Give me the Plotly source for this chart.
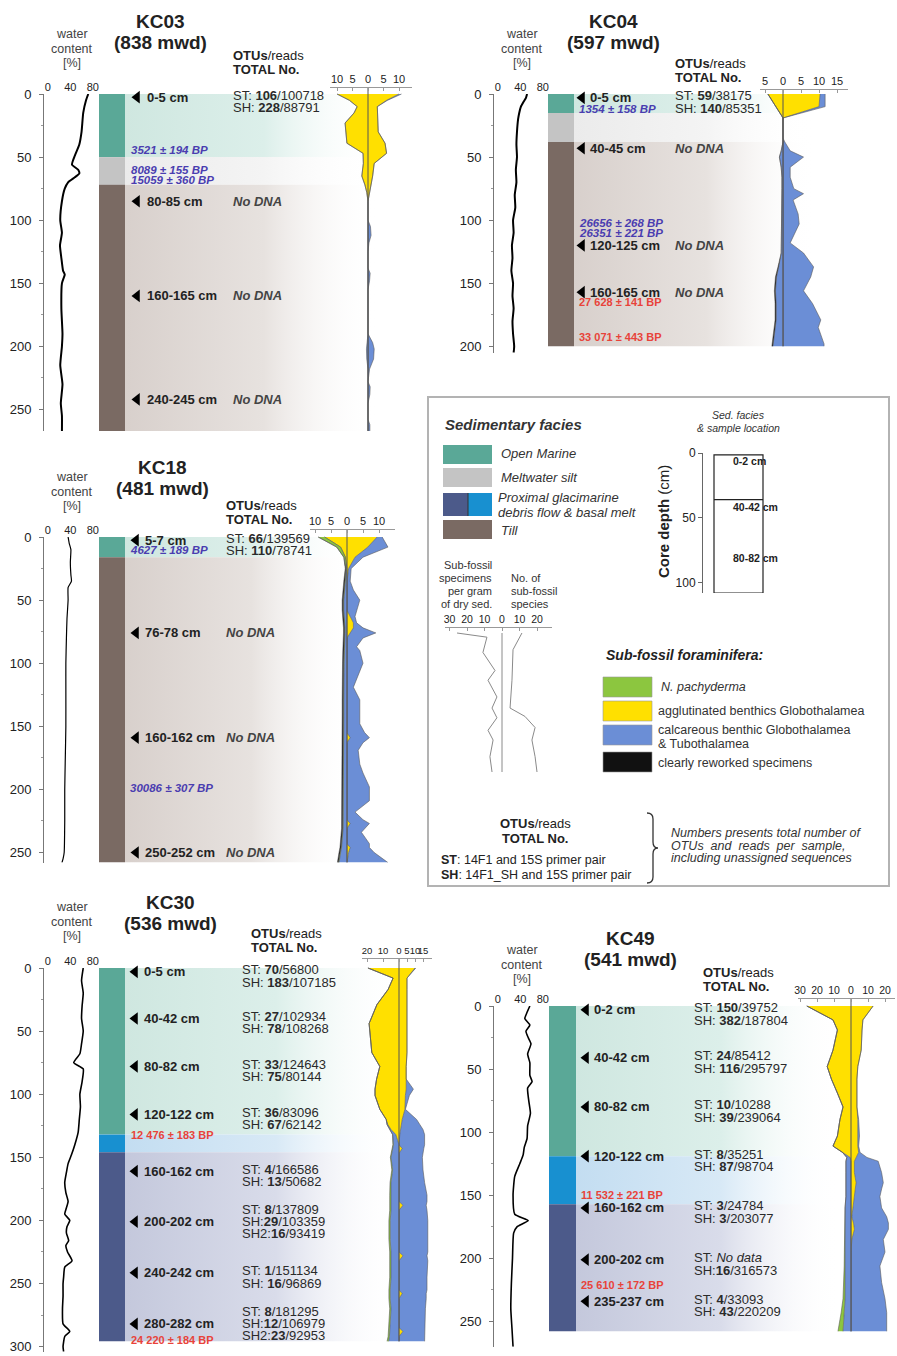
import plotly.graph_objects as go

W, H = 897, 1356
SCALE = 1.262  # px per cm of core depth
FONT = "Liberation Sans, Arial, Helvetica, sans-serif"
INK = "#222222"

# ===================== DATA =====================
# ---------- KC03 ----------
kc03_fac_top = [0, 50, 72]
kc03_fac_bot = [50, 72, 267]
kc03_fac = ["om", "mw", "till"]
kc03_wc_depth = [0, 5, 15, 30, 40, 50, 56, 60, 63, 66, 70, 75, 85, 100, 110, 120, 130, 140, 143, 150, 170, 190, 200, 215, 230, 245, 255, 267]
kc03_wc = [72, 68, 63, 60, 56, 47, 43, 54, 56, 48, 36, 30, 25, 22, 25, 21.5, 24, 27, 30, 25, 24, 26, 25, 22, 26, 23, 25, 25]
kc03_samples = ["0-5 cm", "80-85 cm", "160-165 cm", "240-245 cm"]
kc03_sample_depth = [2.5, 85, 160, 242]
kc03_otu = [["ST: <b>106</b>/100718", "SH: <b>228</b>/88791"], [], [], []]
kc03_dates = ["3521 ± 194 BP", "8089 ± 155 BP", "15059 ± 360 BP"]
kc03_date_depth = [44.4, 60.2, 68]
kc03_date_kind = ["b", "b", "b"]
kc03_f_depth = [0, 5, 10, 15, 23, 30, 39, 47, 55, 65, 72, 78, 85, 100, 105, 112, 118, 125, 138, 142, 148, 155, 190, 197, 202, 210, 218, 228, 232, 238, 245, 258, 262, 267]
kc03_yel_L = [10, 6, 3.5, 4.5, 7.4, 7.2, 6.8, 1.6, 1.5, 2, 1, 0.4, 0, 0, 0, 0, 0, 0, 0, 0, 0, 0, 0, 0, 0, 0, 0, 0, 0, 0, 0, 0, 0, 0]
kc03_blu_L = [0, 0, 0, 0, 0, 0, 0, 0, 0, 0, 0, 0, 0, 0, 0, 0, 0, 0, 0, 0, 0, 0, 0, 0.3, 0.5, 0.4, 0, 0, 0, 0, 0, 0, 0, 0]
kc03_yel_R = [10, 6, 3, 3, 3.2, 3.3, 5.5, 6, 2, 1.5, 1, 0.4, 0, 0, 0, 0, 0, 0, 0, 0, 0, 0, 0, 0, 0, 0, 0, 0, 0, 0, 0, 0, 0, 0]
kc03_blu_R = [0.8, 0.3, 0, 0, 0, 0, 0, 0, 0, 0, 0, 0, 0, 0, 0.8, 1, 0.3, 0, 0, 0.7, 0.5, 0, 0, 1.5, 2, 1.8, 0.5, 0, 0.7, 0.6, 0, 0, 0.6, 0.6]
kc03_f_ticks = [-10, -5, 0, 5, 10]

# ---------- KC04 ----------
kc04_fac_top = [0, 15, 38]
kc04_fac_bot = [15, 38, 200]
kc04_fac = ["om", "mw", "till"]
kc04_wc_depth = [0, 3, 6, 10, 15, 20, 30, 40, 50, 60, 70, 80, 90, 100, 110, 120, 130, 140, 150, 160, 170, 180, 190, 200, 205]
kc04_wc = [52, 50, 46, 41, 38, 36, 34, 33, 34, 32, 33, 30, 31, 27, 28, 25, 26, 24, 27, 26, 28, 26, 27, 29, 28]
kc04_samples = ["0-5 cm", "40-45 cm", "120-125 cm", "160-165 cm"]
kc04_sample_depth = [3, 43, 120, 157]
kc04_otu = [["ST: <b>59</b>/38175", "SH: <b>140</b>/85351"], [], [], []]
kc04_dates = ["1354 ± 158 BP", "26656 ± 268 BP", "26351 ± 221 BP", "27 628 ± 141 BP", "33 071 ± 443 BP"]
kc04_date_depth = [11.9, 102, 110, 165, 192.5]
kc04_date_kind = ["b", "b", "b", "r", "r"]
kc04_f_depth = [0, 10, 19, 35, 38, 45, 50, 58, 66, 75, 79, 84, 95, 103, 118, 126, 137, 145, 156, 166, 179, 185, 198, 200]
kc04_yel_L = [4.2, 2, 0, 0, 0, 0, 0, 0, 0, 0, 0, 0, 0, 0, 0, 0, 0, 0, 0, 0, 0, 0, 0, 0]
kc04_blu_L = [0, 0, 0, 0, 0, 0.5, 1, 0.5, 0.3, 0.3, 0.3, 0.3, 0.3, 0.3, 0.5, 0.5, 1.2, 1.8, 2.1, 1.9, 1.9, 2.1, 2.6, 2.8]
kc04_blk_L = [0, 0, 0, 0, 0, 0, 0, 0, 0, 0, 0, 0, 0, 0, 0, 0, 0.2, 0.3, 0.3, 0.3, 0.3, 0.3, 0.3, 0.3]
kc04_yel_R = [10.3, 10, 0, 0, 0, 0, 0, 0, 0, 0, 0, 0, 0, 0, 0, 0, 0, 0, 0, 0, 0, 0, 0, 0]
kc04_blu_R = [1.4, 1.7, 0, 0, 0.5, 2, 5.7, 2, 2, 3, 5.7, 2.8, 4.2, 4.5, 2, 5.7, 8.5, 7.7, 5.7, 8.2, 10.5, 9.8, 11.4, 11.4]
kc04_f_ticks = [-5, 0, 5, 10, 15]

# ---------- KC18 ----------
kc18_fac_top = [0, 16]
kc18_fac_bot = [16, 258]
kc18_fac = ["om", "till"]
kc18_wc_depth = [0, 5, 10, 20, 30, 35, 40, 50, 65, 80, 100, 120, 150, 175, 200, 225, 250, 255, 258]
kc18_wc = [36, 38, 41, 40, 41, 42, 36, 36, 34, 33, 32, 32, 32, 31, 30, 30, 29, 27, 25]
kc18_samples = ["5-7 cm", "76-78 cm", "160-162 cm", "250-252 cm"]
kc18_sample_depth = [2.5, 76, 159, 250]
kc18_otu = [["ST: <b>66</b>/139569", "SH: <b>110</b>/78741"], [], [], []]
kc18_dates = ["4627 ± 189 BP", "30086 ± 307 BP"]
kc18_date_depth = [10.3, 199]
kc18_date_kind = ["b", "b"]
kc18_f_depth = [0, 8, 16, 25, 35, 42, 50, 58, 63, 68, 72, 76, 80, 87, 90, 100, 110, 119, 129, 140, 148, 155, 159, 163, 169, 180, 187, 198, 209, 218, 224, 227, 231, 234, 243, 246, 250, 258]
kc18_yel_L = [7, 2, 0.5] + [0] * 35
kc18_blu_L = [0, 0, 0, 0.2, 0.5, 0.8, 1, 1, 0.8, 0.7, 0.6, 0.6, 0.6, 0.8, 0.8, 0.9, 1, 0.9, 1, 1, 1, 1.1, 1, 1, 1, 1, 1.1, 1, 1, 1.1, 1, 1.1, 1.2, 1.3, 1.5, 1.7, 2, 2.5]
kc18_grn_L = [2, 1.2, 0.5] + [0.15] * 35
kc18_blk_L = [0, 0, 0, 0.2] + [0.35] * 34
kc18_yel_R = [9.4, 6.5, 2.5, 0.5, 0, 0, 0, 0, 1, 2, 2, 1, 0, 0, 0, 0, 0, 0, 0, 0, 0, 0, 1, 0, 0, 0, 0, 0, 0, 0, 0, 1, 0, 0, 0, 1, 0.5, 0]
kc18_blu_R = [1.6, 6.3, 2.5, 0.8, 1, 2, 4, 3, 1.5, 1, 3, 8, 5, 3, 4, 5, 3.5, 2, 4, 4, 4, 5.5, 6, 5, 3.5, 4, 5, 7, 7, 2.5, 5, 6, 5.5, 4.5, 7, 6, 8, 12.8]
kc18_f_ticks = [-10, -5, 0, 5, 10]

# ---------- KC30 ----------
kc30_fac_top = [0, 132, 146]
kc30_fac_bot = [132, 146, 296]
kc30_fac = ["om", "bm", "df"]
kc30_wc_depth = [0, 10, 20, 30, 40, 50, 60, 68, 75, 80, 90, 100, 110, 120, 130, 140, 148, 155, 162, 170, 178, 185, 190, 195, 200, 205, 210, 216, 220, 225, 232, 237, 245, 250, 260, 270, 282, 288, 292, 300, 304]
kc30_wc = [63, 60, 63, 61, 60, 63, 60, 57, 46, 63, 61, 57, 58, 56, 54, 48, 42, 36, 33, 30, 32, 36, 33, 30, 39, 34, 33, 37, 32, 35, 43, 30, 28, 27, 27, 26, 27, 39, 30, 27, 28]
kc30_samples = ["0-5 cm", "40-42 cm", "80-82 cm", "120-122 cm", "160-162 cm", "200-202 cm", "240-242 cm", "280-282 cm"]
kc30_sample_depth = [3, 40, 78, 116, 161, 201, 241.5, 282]
kc30_otu = [
    ["ST: <b>70</b>/56800", "SH: <b>183</b>/107185"],
    ["ST: <b>27</b>/102934", "SH: <b>78</b>/108268"],
    ["ST: <b>33</b>/124643", "SH: <b>75</b>/80144"],
    ["ST: <b>36</b>/83096", "SH: <b>67</b>/62142"],
    ["ST: <b>4</b>/166586", "SH: <b>13</b>/50682"],
    ["ST: <b>8</b>/137809", "SH:<b>29</b>/103359", "SH2:<b>16</b>/93419"],
    ["ST: <b>1</b>/151134", "SH: <b>16</b>/96869"],
    ["ST: <b>8</b>/181295", "SH:<b>12</b>/106979", "SH2:<b>23</b>/92953"],
]
kc30_dates = ["12 476 ± 183 BP", "24 220 ± 184 BP"]
kc30_date_depth = [132, 294.5]
kc30_date_kind = ["r", "r"]
kc30_f_depth = [0, 8, 17, 29, 44, 54, 67, 78, 88, 96, 101, 112, 120, 124, 128, 132, 140, 143, 147, 150, 160, 170, 180, 185, 188, 192, 200, 215, 225, 228, 232, 245, 255, 258, 262, 270, 285, 288, 292, 296]
kc30_yel_L = [19.4, 3.7, 6.8, 13.8, 18.7, 18, 17, 12, 14, 15, 15, 12, 8, 7, 5, 2] + [0] * 24
kc30_blu_L = [0] * 13 + [0.5, 1, 2, 3.5, 4, 4.5, 5, 4, 5, 5, 5, 5, 5, 5.5, 5.5, 5, 5, 5, 5, 5.5, 5.5, 5.5, 5, 5.5, 5.5, 6, 6.5]
kc30_grn_L = [0] * 16 + [0.3, 0.3, 0.3, 0.4, 0.5, 0.6, 0.8, 0.8, 0.8, 0.8, 0.8, 0.8, 0.8, 0.8, 0.8, 0.8, 0.8, 0.8, 0.8, 0.8, 0.8, 0.8, 0.8, 1]
kc30_yel_R = [10, 5, 5, 5, 5.3, 5.3, 5, 4.5, 4.5, 4.5, 4, 3.7, 2, 1.5, 1, 0.5, 0, 2, 0, 0, 0, 0, 0, 0, 2.5, 0, 0, 0, 0, 2.5, 0, 0, 0, 2, 0, 0, 0, 2.5, 0, 0]
kc30_blu_R = [0.5, 0, 0, 0, 0, 0, 0, 0, 0, 4.5, 2.5, 0.3, 9, 11.5, 14, 15.5, 16, 13.5, 15, 14.6, 15, 16, 17.5, 17.5, 14.5, 17.5, 18, 18, 18, 15, 18, 17.5, 17.5, 15, 17, 16.5, 16, 13.5, 16, 16]
kc30_f_ticks = [-20, -10, 0, 5, 10, 15]

# ---------- KC49 ----------
kc49_fac_top = [0, 119, 157]
kc49_fac_bot = [119, 157, 258]
kc49_fac = ["om", "bm", "df"]
kc49_wc_depth = [0, 5, 10, 15, 20, 25, 30, 38, 45, 55, 60, 65, 75, 85, 95, 105, 112, 118, 125, 135, 150, 165, 170, 175, 180, 200, 220, 240, 255, 270]
kc49_wc = [57, 52, 48, 57, 50, 54, 59, 53, 57, 57, 61, 53, 55, 58, 53, 52, 47, 45, 39, 30, 27, 30, 54, 34, 28, 26, 24, 23, 25, 27]
kc49_samples = ["0-2 cm", "40-42 cm", "80-82 cm", "120-122 cm", "160-162 cm", "200-202 cm", "235-237 cm"]
kc49_sample_depth = [3, 41, 80, 119, 160, 201, 234]
kc49_otu = [
    ["ST: <b>150</b>/39752", "SH: <b>382</b>/187804"],
    ["ST: <b>24</b>/85412", "SH: <b>116</b>/295797"],
    ["ST: <b>10</b>/10288", "SH: <b>39</b>/239064"],
    ["ST: <b>8</b>/35251", "SH: <b>87</b>/98704"],
    ["ST: <b>3</b>/24784", "SH: <b>3</b>/203077"],
    ["ST: <i>No data</i>", "SH:<b>16</b>/316573"],
    ["ST: <b>4</b>/33093", "SH: <b>43</b>/220209"],
]
kc49_dates = ["11 532 ± 221 BP", "25 610 ± 172 BP"]
kc49_date_depth = [149.8, 221]
kc49_date_kind = ["r", "r"]
kc49_f_depth = [0, 11, 19, 35, 48, 58, 69, 80, 90, 103, 111, 116, 120, 123, 132, 140, 145, 151, 160, 167, 172, 177, 185, 195, 206, 219, 232, 243, 258]
kc49_yel_L = [26, 10.6, 8, 10.6, 14, 11.5, 8, 4.7, 6.5, 8, 10.6, 5, 0.5] + [0] * 16
kc49_blu_L = [0] * 12 + [2, 3, 3, 3, 3, 3, 3.5, 3.5, 3.5, 3.5, 3.5, 3.5, 3.5, 3.5, 3.5, 4, 4.7]
kc49_grn_L = [0] * 22 + [0.3, 0.4, 0.5, 0.8, 1.2, 1.8, 3]
kc49_yel_R = [13, 7, 6.5, 6, 4, 3.5, 3.5, 3.5, 4, 4, 4, 4.5, 3, 2, 2, 3, 2.5, 2, 1, 0.5, 1.5, 2, 0.5, 0, 0, 0, 0, 0, 0]
kc49_blu_R = [0, 0, 0, 0, 0, 0, 0, 0, 0.5, 1, 0.5, 0.8, 6.4, 14, 16, 16, 15.5, 15, 17, 20.5, 20.5, 20, 18.5, 20, 17, 18, 20, 21, 21]
kc49_f_ticks = [-30, -20, -10, 0, 10, 20]

# ---------- legend schematic ----------
leg_core_bounds = [0, 36, 108]
leg_samples = ["0-2 cm", "40-42 cm", "80-82 cm"]
leg_sample_depth = [6, 42, 81]
leg_left_depth = [0, 3, 14, 27, 34, 46, 54, 61, 70, 77, 89, 100]
leg_left_val = [-25.7, -8.6, -10.9, -4, -8, -2.9, -5.7, -2.9, -8, -5.1, -6.9, -5.7]
leg_right_depth = [0, 12, 34, 54, 60, 68, 77, 89, 100]
leg_right_val = [11.4, 6.3, 5.7, 4.6, 13.1, 18.9, 17.1, 18.9, 20]
leg_ticks = [-30, -20, -10, 0, 10, 20]

# ===================== STYLE / LAYOUT =====================
FAC_COL = {"om": "#5aa897", "mw": "#c4c4c4", "till": "#7a6a63", "df": "#4c5a8a", "bm": "#1890d0"}
BAND_COL = {
    "om": ["#cfe7e0", "#dcefea"],
    "mw": ["#ebebeb", "#f4f4f4"],
    "till": ["#d8d0cc", "#e7e2df"],
    "df": ["#c4c8dc", "#d9dcea"],
    "bm": ["#c3ddf1", "#d8e9f6"],
}
F_COL = {"yel": "#ffe000", "blu": "#6b8ed6", "grn": "#8cc63f", "blk": "#111111"}
DATE_STYLE = {"b": ("#4a3db0", True, 11.5), "r": ("#e8433a", False, 11)}

POS = {
    "KC03": dict(axis_x=44, y0=94, axis_max=267, col_left=99, col_w=26, band_end=378, arrow_dx=12, label_dx=21,
                 otu_x=232, date_x=130, f_zero=368, f_ppu=3.1, f_left=330, f_right=412, f_axis_y=88,
                 title_xy=(160, 21), wc_xy=(72, 34), hdr_xy=(232, 55), wc_lw=2.0, f_font=11),
    "KC04": dict(axis_x=494, y0=94, axis_max=205, col_left=548, col_w=26, band_end=815, arrow_dx=8, label_dx=15,
                 otu_x=674, date_x=578, f_zero=783, f_ppu=3.6, f_left=760, f_right=848, f_axis_y=90,
                 title_xy=(613, 21), wc_xy=(522, 34), hdr_xy=(674, 63), wc_lw=2.0, f_font=11),
    "KC18": dict(axis_x=44, y0=537, axis_max=258, col_left=99, col_w=26, band_end=355, arrow_dx=11, label_dx=19,
                 otu_x=225, date_x=129, f_zero=347, f_ppu=3.2, f_left=310, f_right=395, f_axis_y=530,
                 title_xy=(162, 467), wc_xy=(72, 477), hdr_xy=(225, 505), wc_lw=1.2, f_font=11),
    "KC30": dict(axis_x=44, y0=968, axis_max=304, col_left=99, col_w=26, band_end=400, arrow_dx=10, label_dx=18,
                 otu_x=241, date_x=130, f_zero=399, f_ppu=1.6, f_left=362, f_right=432, f_axis_y=959,
                 title_xy=(170, 902), wc_xy=(72, 907), hdr_xy=(250, 933), wc_lw=1.6, f_font=9.5),
    "KC49": dict(axis_x=494, y0=1006, axis_max=270, col_left=549, col_w=27, band_end=840, arrow_dx=10, label_dx=17,
                 otu_x=693, date_x=580, f_zero=851, f_ppu=1.7, f_left=798, f_right=895, f_axis_y=999,
                 title_xy=(630, 938), wc_xy=(522, 950), hdr_xy=(702, 972), wc_lw=1.6, f_font=10.5),
}

CORES = [
    dict(name="KC03", mwd="(838 mwd)", fac_top=kc03_fac_top, fac_bot=kc03_fac_bot, fac=kc03_fac,
         wc_depth=kc03_wc_depth, wc=kc03_wc, samples=kc03_samples, sample_depth=kc03_sample_depth, otu=kc03_otu,
         dates=kc03_dates, date_depth=kc03_date_depth, date_kind=kc03_date_kind, f_depth=kc03_f_depth,
         L=dict(yel=kc03_yel_L, blu=kc03_blu_L), R=dict(yel=kc03_yel_R, blu=kc03_blu_R), f_ticks=kc03_f_ticks),
    dict(name="KC04", mwd="(597 mwd)", fac_top=kc04_fac_top, fac_bot=kc04_fac_bot, fac=kc04_fac,
         wc_depth=kc04_wc_depth, wc=kc04_wc, samples=kc04_samples, sample_depth=kc04_sample_depth, otu=kc04_otu,
         dates=kc04_dates, date_depth=kc04_date_depth, date_kind=kc04_date_kind, f_depth=kc04_f_depth,
         L=dict(yel=kc04_yel_L, blu=kc04_blu_L, blk=kc04_blk_L), R=dict(yel=kc04_yel_R, blu=kc04_blu_R),
         f_ticks=kc04_f_ticks),
    dict(name="KC18", mwd="(481 mwd)", fac_top=kc18_fac_top, fac_bot=kc18_fac_bot, fac=kc18_fac,
         wc_depth=kc18_wc_depth, wc=kc18_wc, samples=kc18_samples, sample_depth=kc18_sample_depth, otu=kc18_otu,
         dates=kc18_dates, date_depth=kc18_date_depth, date_kind=kc18_date_kind, f_depth=kc18_f_depth,
         L=dict(yel=kc18_yel_L, blu=kc18_blu_L, grn=kc18_grn_L, blk=kc18_blk_L),
         R=dict(yel=kc18_yel_R, blu=kc18_blu_R), f_ticks=kc18_f_ticks),
    dict(name="KC30", mwd="(536 mwd)", fac_top=kc30_fac_top, fac_bot=kc30_fac_bot, fac=kc30_fac,
         wc_depth=kc30_wc_depth, wc=kc30_wc, samples=kc30_samples, sample_depth=kc30_sample_depth, otu=kc30_otu,
         dates=kc30_dates, date_depth=kc30_date_depth, date_kind=kc30_date_kind, f_depth=kc30_f_depth,
         L=dict(yel=kc30_yel_L, blu=kc30_blu_L, grn=kc30_grn_L), R=dict(yel=kc30_yel_R, blu=kc30_blu_R),
         f_ticks=kc30_f_ticks),
    dict(name="KC49", mwd="(541 mwd)", fac_top=kc49_fac_top, fac_bot=kc49_fac_bot, fac=kc49_fac,
         wc_depth=kc49_wc_depth, wc=kc49_wc, samples=kc49_samples, sample_depth=kc49_sample_depth, otu=kc49_otu,
         dates=kc49_dates, date_depth=kc49_date_depth, date_kind=kc49_date_kind, f_depth=kc49_f_depth,
         L=dict(yel=kc49_yel_L, blu=kc49_blu_L, grn=kc49_grn_L), R=dict(yel=kc49_yel_R, blu=kc49_blu_R),
         f_ticks=kc49_f_ticks),
]

# ===================== BUILD =====================
fig = go.Figure()
axes = {}
shapes = []
annotations = []


def xdom(a, b):
    return [a / W, b / W]


def ydom(top, bot):
    return [1 - bot / H, 1 - top / H]


def new_axes(k, xd, yd, xcfg, ycfg):
    xn, yn = ("xaxis", "yaxis") if k == 1 else (f"xaxis{k}", f"yaxis{k}")
    xr, yr = ("x", "y") if k == 1 else (f"x{k}", f"y{k}")
    axes[xn] = dict(domain=xd, anchor=yr, fixedrange=True, showgrid=False, zeroline=False, automargin=False,
                    **xcfg)
    axes[yn] = dict(domain=yd, anchor=xr, fixedrange=True, showgrid=False, zeroline=False, automargin=False,
                    **ycfg)
    return xr, yr


def txt(x, y, s, size=12, color=INK, xref="x", yref="y", xanchor="left", yanchor="middle", angle=0):
    annotations.append(dict(x=x, y=y, xref=xref, yref=yref, text=s, showarrow=False, xanchor=xanchor,
                            yanchor=yanchor, textangle=angle, borderpad=0,
                            font=dict(family=FONT, size=size, color=color)))


def tfont(size):
    return dict(family=FONT, size=size, color=INK)


# canvas axis (pixel coordinates) for the legend panel and headings
new_axes(1, [0, 1], [0, 1], dict(range=[0, W], visible=False), dict(range=[H, 0], visible=False))
fig.add_trace(go.Scatter(x=[0], y=[0], mode="markers", marker=dict(opacity=0), hoverinfo="skip",
                         showlegend=False))

k = 2
for c in CORES:
    p = POS[c["name"]]
    y0 = p["y0"]
    colmax = c["fac_bot"][-1]
    ybot_axis = y0 + p["axis_max"] * SCALE
    ybot_col = y0 + colmax * SCALE

    # ---- headings ----
    tx, ty = p["title_xy"]
    txt(tx, ty, f"<b>{c['name']}</b>", 19, xanchor="center")
    txt(tx, ty + 21, f"<b>{c['mwd']}</b>", 19, xanchor="center")
    wx, wy = p["wc_xy"]
    for i, s in enumerate(["water", "content", "[%]"]):
        txt(wx, wy + 14.5 * i, s, 12.5, "#444", xanchor="center")
    hx, hy = p["hdr_xy"]
    txt(hx, hy, "<b>OTUs</b>/reads", 13)
    txt(hx, hy + 14, "<b>TOTAL No.</b>", 13)

    # ---- water content ----
    xw, yw = new_axes(
        k, xdom(p["axis_x"], p["axis_x"] + 51), ydom(y0, ybot_axis),
        dict(range=[-7, 84], side="top", tickvals=[0, 40, 80], ticks="", showline=False, tickfont=tfont(11),
             tickangle=0),
        dict(range=[p["axis_max"], 0], showline=True, linecolor="#777", linewidth=1, ticks="outside", ticklen=4,
             tickcolor="#777", tickvals=list(range(0, p["axis_max"] + 1, 50)), tickfont=tfont(13),
             ticklabelstandoff=5,
             minor=dict(tickmode="linear", tick0=0, dtick=25, ticks="outside", ticklen=2, tickcolor="#999")))
    k += 1
    fig.add_trace(go.Scatter(x=c["wc"], y=c["wc_depth"], mode="lines", xaxis=xw, yaxis=yw,
                             line=dict(color="black", width=p["wc_lw"], shape="spline", smoothing=0.5),
                             hoverinfo="skip", showlegend=False))

    # ---- facies column + bands + labels ----
    bw = p["band_end"] - p["col_left"]
    cw = p["col_w"]
    xc, yc = new_axes(k, xdom(p["col_left"], p["band_end"]), ydom(y0, ybot_col),
                      dict(range=[0, bw], visible=False), dict(range=[colmax, 0], visible=False))
    k += 1
    for t, b, f in zip(c["fac_top"], c["fac_bot"], c["fac"]):
        c0, c1 = BAND_COL[f]
        fig.add_trace(go.Scatter(x=[cw, bw, bw, cw, cw], y=[t, t, b, b, t], mode="lines", fill="toself",
                                 line=dict(width=0), xaxis=xc, yaxis=yc, hoverinfo="skip", showlegend=False,
                                 fillgradient=dict(type="horizontal",
                                                   colorscale=[[0, c0], [0.55, c1], [1, "rgba(255,255,255,0)"]])))
        shapes.append(dict(type="rect", xref=xc, yref=yc, x0=0, x1=cw, y0=t, y1=b, fillcolor=FAC_COL[f],
                           line=dict(width=0), layer="above"))
    fig.add_trace(go.Scatter(x=[cw + p["arrow_dx"]] * len(c["samples"]), y=c["sample_depth"], mode="markers",
                             marker=dict(symbol="triangle-left", size=11, color="black"), cliponaxis=False,
                             xaxis=xc, yaxis=yc, hoverinfo="skip", showlegend=False))
    ox = p["otu_x"] - p["col_left"]
    for s, d, lines in zip(c["samples"], c["sample_depth"], c["otu"]):
        txt(cw + p["label_dx"], d, f"<b>{s}</b>", 13, xref=xc, yref=yc)
        if not lines:
            txt(ox, d, "<b><i>No DNA</i></b>", 13, "#444", xref=xc, yref=yc)
        else:
            offs = [-2, 10.5] if len(lines) == 2 else [-12.5, 0, 12]
            for ln, o in zip(lines, offs):
                txt(ox, d + o / SCALE, ln, 13, "#2a2a2a", xref=xc, yref=yc)
    for s, d, kind in zip(c["dates"], c["date_depth"], c["date_kind"]):
        col, ital, sz = DATE_STYLE[kind]
        label = f"<b><i>{s}</i></b>" if ital else f"<b>{s}</b>"
        txt(p["date_x"] - p["col_left"], d, label, sz, col, xref=xc, yref=yc)

    # ---- sub-fossil foraminifera ----
    top_d = -(y0 - p["f_axis_y"]) / SCALE
    lo = (p["f_left"] - p["f_zero"]) / p["f_ppu"]
    hi = (p["f_right"] - p["f_zero"]) / p["f_ppu"]
    xf, yf = new_axes(
        k, xdom(p["f_left"], p["f_right"]), ydom(p["f_axis_y"], ybot_col),
        dict(range=[lo, hi], side="top", showline=True, linecolor="#999", linewidth=1, ticks="inside", ticklen=3,
             tickcolor="#999", tickvals=c["f_ticks"], ticktext=[str(abs(v)) for v in c["f_ticks"]],
             tickfont=tfont(p["f_font"]), tickangle=0),
        dict(range=[colmax, top_d], visible=False))
    k += 1
    depth = c["f_depth"]
    n = len(depth)
    for sign, comps in ((1, c["R"]), (-1, c["L"])):
        fig.add_trace(go.Scatter(x=[0] * n, y=depth, mode="lines", line=dict(width=0), xaxis=xf, yaxis=yf,
                                 hoverinfo="skip", showlegend=False))
        cum = [0] * n
        for key in ("yel", "blu", "grn", "blk"):
            vals = comps.get(key)
            if vals is None:
                continue
            cum = [a + b for a, b in zip(cum, vals)]
            fig.add_trace(go.Scatter(x=[sign * v for v in cum], y=depth, mode="lines", fill="tonextx",
                                     fillcolor=F_COL[key], line=dict(color="#5a5a5a", width=0.6),
                                     xaxis=xf, yaxis=yf, hoverinfo="skip", showlegend=False))
    fig.add_trace(go.Scatter(x=[0, 0], y=[top_d, colmax], mode="lines", line=dict(color="#555", width=1),
                             xaxis=xf, yaxis=yf, hoverinfo="skip", showlegend=False))

# ===================== LEGEND PANEL =====================
shapes.append(dict(type="rect", xref="x", yref="y", x0=428, x1=889, y0=397, y1=886,
                   line=dict(color="#b3b3b3", width=2), fillcolor="rgba(0,0,0,0)"))
txt(444, 424, "<b><i>Sedimentary facies</i></b>", 15, "#333")
sw = [("om", 445, 464), ("mw", 468, 487), ("df", 493, 516), ("till", 520, 539)]
for f, a, b in sw:
    shapes.append(dict(type="rect", xref="x", yref="y", x0=443, x1=492, y0=a, y1=b, fillcolor=FAC_COL[f],
                       line=dict(width=0)))
shapes.append(dict(type="rect", xref="x", yref="y", x0=468, x1=492, y0=493, y1=516, fillcolor=FAC_COL["bm"],
                   line=dict(width=0)))
shapes.append(dict(type="line", xref="x", yref="y", x0=468, x1=468, y0=493, y1=516,
                   line=dict(color="#333", width=1)))
txt(500, 453, "<i>Open Marine</i>", 13, "#333")
txt(500, 477, "<i>Meltwater silt</i>", 13, "#333")
txt(497, 497, "<i>Proximal glacimarine</i>", 13, "#333")
txt(497, 512, "<i>debris flow &amp; basal melt</i>", 13, "#333")
txt(500, 530, "<i>Till</i>", 13, "#333")

txt(738, 415, "<i>Sed. facies</i>", 10.5, "#333", xanchor="center")
txt(738, 428, "<i>&amp; sample location</i>", 10.5, "#333", xanchor="center")
txt(663, 522, "<b>Core depth</b> (cm)", 15, "#222", xanchor="center", angle=-90)

# mini core axis
xm, ym = new_axes(k, xdom(703, 770), ydom(453, 593),
                  dict(range=[0, 67], visible=False),
                  dict(range=[leg_core_bounds[-1], 0], showline=True, linecolor="#666", ticks="outside", ticklen=4,
                       tickcolor="#666", tickvals=[0, 50, 100], tickfont=tfont(12)))
k += 1
shapes.append(dict(type="rect", xref=xm, yref=ym, x0=11, x1=60, y0=leg_core_bounds[0] + 1.5,
                   y1=leg_core_bounds[-1], line=dict(color="#222", width=1.2), fillcolor="white"))
for b in leg_core_bounds[1:-1]:
    shapes.append(dict(type="line", xref=xm, yref=ym, x0=11, x1=60, y0=b, y1=b, line=dict(color="#222", width=1.2)))
fig.add_trace(go.Scatter(x=[22] * len(leg_samples), y=leg_sample_depth, mode="markers", cliponaxis=False,
                         marker=dict(symbol="triangle-left", size=10, color="black"), xaxis=xm, yaxis=ym,
                         hoverinfo="skip", showlegend=False))
for s, d in zip(leg_samples, leg_sample_depth):
    txt(29, d, f"<b>{s}</b>", 10.5, "#222", xref=xm, yref=ym)

# mini foram schematic
txt(493, 565, "Sub-fossil", 11, "#333", xanchor="right")
txt(493, 578, "specimens", 11, "#333", xanchor="right")
txt(493, 591, "per gram", 11, "#333", xanchor="right")
txt(493, 604, "of dry sed.", 11, "#333", xanchor="right")
txt(510, 578, "No. of", 11, "#333")
txt(510, 591, "sub-fossil", 11, "#333")
txt(510, 604, "species", 11, "#333")
lf_lo = (445 - 502) / 1.75
lf_hi = (552 - 502) / 1.75
xl, yl = new_axes(k, xdom(445, 552), ydom(628, 772),
                  dict(range=[lf_lo, lf_hi], side="top", showline=True, linecolor="#999", ticks="inside",
                       ticklen=3, tickcolor="#999", tickvals=leg_ticks, tickangle=0,
                       ticktext=[str(abs(v)) for v in leg_ticks], tickfont=tfont(10.5)),
                  dict(range=[100, -5 / 1.39], visible=False))
k += 1
for xs, ys in ((leg_left_val, leg_left_depth), (leg_right_val, leg_right_depth), ([0, 0], [0, 100])):
    fig.add_trace(go.Scatter(x=xs, y=ys, mode="lines", line=dict(color="#8a8a8a", width=1), xaxis=xl, yaxis=yl,
                             hoverinfo="skip", showlegend=False))

# sub-fossil foraminifera legend
txt(605, 655, "<b><i>Sub-fossil foraminifera:</i></b>", 14, "#222")
fsw = [("grn", 677, 697), ("yel", 701, 721), ("blu", 725, 745), ("blk", 752, 772)]
for key, a, b in fsw:
    shapes.append(dict(type="rect", xref="x", yref="y", x0=603, x1=652, y0=a, y1=b, fillcolor=F_COL[key],
                       line=dict(color="#999", width=0.6)))
txt(660, 687, "<i>N. pachyderma</i>", 12.5, "#333")
txt(657, 711, "agglutinated benthics Globothalamea", 12.5, "#333")
txt(657, 730, "calcareous benthic Globothalamea", 12.5, "#333")
txt(657, 744, "&amp; Tubothalamea", 12.5, "#333")
txt(657, 763, "clearly reworked specimens", 12.5, "#333")

# OTU explanation
txt(535, 823, "<b>OTUs</b>/reads", 13, "#222", xanchor="center")
txt(535, 838, "<b>TOTAL No.</b>", 13, "#222", xanchor="center")
txt(440, 860, "<b>ST</b>: 14F1 and 15S primer pair", 12.5, "#222")
txt(440, 875, "<b>SH</b>: 14F1_SH and 15S primer pair", 12.5, "#222")
shapes.append(dict(type="path", xref="x", yref="y",
                   path="M 647 813 Q 653 813 653 819 L 653 842 Q 653 848 658 848 Q 653 848 653 854 "
                        "L 653 877 Q 653 883 647 883",
                   line=dict(color="#333", width=1.3)))
txt(670, 833, "<i>Numbers presents total number of</i>", 12.5, "#333")
txt(670, 846, "<i>OTUs  and  reads  per  sample,</i>", 12.5, "#333")
txt(670, 858, "<i>including unassigned sequences</i>", 12.5, "#333")

fig.update_layout(template="none", width=W, height=H, autosize=False,
                  margin=dict(l=0, r=0, t=0, b=0, pad=0, autoexpand=False),
                  paper_bgcolor="white", plot_bgcolor="rgba(0,0,0,0)", showlegend=False,
                  font=dict(family=FONT, color=INK), shapes=shapes, annotations=annotations, **axes)
# remove the default 8px page margin so the figure sits at the window's top-left corner
fig.write_html("out.html", config={"displayModeBar": False},
               post_script="document.body.style.margin='0px';")
